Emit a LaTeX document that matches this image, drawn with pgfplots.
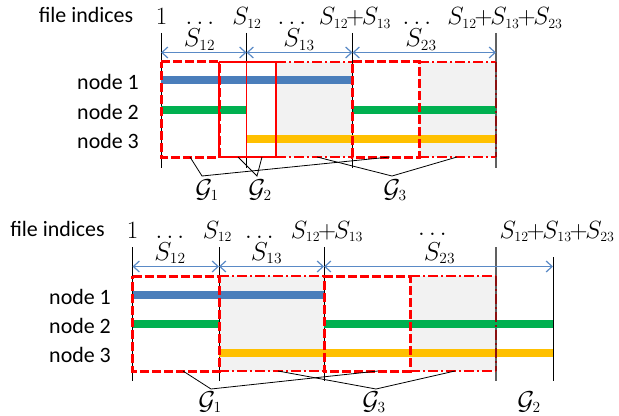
\RequirePackage{fix-cm}
\documentclass[border=0pt]{standalone}
\usepackage{fontspec}
\usepackage{pgfplots}
\pgfplotsset{compat=1.18}
\usetikzlibrary{arrows.meta}
\newfontfamily\carl{Carlito}
\DeclareMathSizes{25}{25}{14}{10}
\DeclareMathSizes{26}{26}{15.5}{11}
\definecolor{nblue}{HTML}{4A7EBB}
\definecolor{ngreen}{HTML}{00B050}
\definecolor{nyellow}{HTML}{FFC000}
\definecolor{arr}{HTML}{5A8AC6}
\definecolor{gfill}{HTML}{F2F2F2}
\definecolor{dgray}{HTML}{606060}
\definecolor{dred}{HTML}{8B1010}
\newcommand{\pl}{\mkern-1.5mu\mathord{+}\mkern-1.5mu}
\begin{document}
\begin{tikzpicture}
\begin{axis}[
  name=ax,
  width=619bp, height=416bp, scale only axis,
  xmin=0, xmax=619, ymin=0, ymax=416, y dir=reverse,
  hide axis, clip=false,
  every axis plot/.append style={forget plot},
  g1/.style={red, line width=3bp, dash pattern=on 9bp off 3bp, line join=miter},
  g2/.style={red, line width=1.6bp},
  g3/.style={red, line width=1.4bp, dash pattern=on 10bp off 3bp on 2bp off 3bp},
  vl/.style={black, line width=0.9bp},
  bar/.style={line width=8bp},
  con/.style={black, line width=0.8bp},
  ar/.style={arr, line width=1.2bp, {Straight Barb[length=6bp,width=11bp]}-{Straight Barb[length=6bp,width=11bp]}},
]
\addplot[draw=none] coordinates {(0,0) (619,416)};
% ================= TOP =================
\addplot[fill=gfill, draw=none] coordinates {(276,62) (352,62) (352,157) (276,157)};
\addplot[fill=gfill, draw=none] coordinates {(419,62) (496,62) (496,157) (419,157)};
\addplot[vl] coordinates {(161,33) (161,168)};
\addplot[vl] coordinates {(246.5,33) (246.5,168)};
\addplot[vl] coordinates {(352.5,33) (352.5,168)};
\addplot[dgray, line width=2bp] coordinates {(496,33) (496,168)};
\addplot[nblue, bar] coordinates {(161,80.5) (352,80.5)};
\addplot[ngreen, bar] coordinates {(161,110) (246.5,110)};
\addplot[ngreen, bar] coordinates {(352.5,110) (496,110)};
\addplot[nyellow, bar] coordinates {(246.5,139) (496,139)};
\addplot[g3] coordinates {(276,62) (352,62)};
\addplot[g3] coordinates {(276,157) (352,157)};
\addplot[g3] coordinates {(419,62) (496,62)};
\addplot[g3] coordinates {(419,157) (496,157)};
\addplot[dred, line width=1.4bp, dash pattern=on 10bp off 3bp on 2bp off 3bp] coordinates {(496,62) (496,157)};
\addplot[g2] coordinates {(219,62) (276,62) (276,157) (219,157) (219,62)};
\addplot[g2] coordinates {(246.5,62) (246.5,157)};
\addplot[g1] coordinates {(161,62) (219,62) (219,157) (161,157) (161,62)};
\addplot[g1] coordinates {(352.5,62) (419,62) (419,157) (352.5,157) (352.5,62)};
\addplot[ar] coordinates {(161,52.5) (246.5,52.5)};
\addplot[ar] coordinates {(246.5,52.5) (352.5,52.5)};
\addplot[ar] coordinates {(352.5,52.5) (496,52.5)};
\addplot[con] coordinates {(190,157) (202,176) (390,157)};
\addplot[con] coordinates {(238,157) (257,176) (262,157)};
\addplot[con] coordinates {(317,157) (392,176) (457,157)};
% ================= BOTTOM =================
\addplot[fill=gfill, draw=none] coordinates {(219,276) (324,276) (324,371) (219,371)};
\addplot[fill=gfill, draw=none] coordinates {(410,276) (496,276) (496,371) (410,371)};
\addplot[vl] coordinates {(132.5,247) (132.5,381)};
\addplot[vl] coordinates {(219,247) (219,381)};
\addplot[vl] coordinates {(324,247) (324,381)};
\addplot[dgray, line width=2bp] coordinates {(496,247) (496,381)};
\addplot[vl] coordinates {(553,257) (553,381)};
\addplot[nblue, bar] coordinates {(132.5,294.5) (324,294.5)};
\addplot[ngreen, bar] coordinates {(132.5,323.5) (219,323.5)};
\addplot[ngreen, bar] coordinates {(324,323.5) (553,323.5)};
\addplot[nyellow, bar] coordinates {(219,352.5) (553,352.5)};
\addplot[g3] coordinates {(219,276) (324,276)};
\addplot[g3] coordinates {(219,371) (324,371)};
\addplot[g3] coordinates {(410,276) (496,276)};
\addplot[g3] coordinates {(410,371) (496,371)};
\addplot[dred, line width=1.4bp, dash pattern=on 10bp off 3bp on 2bp off 3bp] coordinates {(496,276) (496,371)};
\addplot[g1] coordinates {(132.5,276) (219,276) (219,371) (132.5,371) (132.5,276)};
\addplot[g1] coordinates {(324,276) (410,276) (410,371) (324,371) (324,276)};
\addplot[ar] coordinates {(132.5,266.5) (219,266.5)};
\addplot[ar] coordinates {(219,266.5) (324,266.5)};
\addplot[ar] coordinates {(324,266.5) (553,266.5)};
\addplot[con] coordinates {(183,371) (211,389) (378,371)};
\addplot[con] coordinates {(278,371) (376,389) (455,371)};
% ================= TEXT =================
\begin{scope}[every node/.style={inner sep=0pt},
  tx/.style={font=\carl\fontsize{22}{26}\selectfont},
  mi/.style={anchor=base, font=\fontsize{25}{29}\selectfont},
  ma/.style={anchor=base, font=\fontsize{26}{30}\selectfont}]
\node[anchor=base, tx] at (axis cs:86,23) {file indices};
\node[mi] at (axis cs:161.5,25) {$1$};
\node[mi] at (axis cs:200,25) {$\ldots$};
\node[mi] at (axis cs:247,25) {$S_{12}$};
\node[mi] at (axis cs:292,25) {$\ldots$};
\node[mi] at (axis cs:355,25) {$S_{12}\pl S_{13}$};
\node[mi] at (axis cs:417,25) {$\ldots$};
\node[mi] at (axis cs:505,25) {$S_{12}\pl S_{13}\pl S_{23}$};
\node[ma] at (axis cs:199.5,47) {$S_{12}$};
\node[ma] at (axis cs:299,47) {$S_{13}$};
\node[ma] at (axis cs:421,47) {$S_{23}$};
\node[anchor=base east, tx] at (axis cs:139,90) {node 1};
\node[anchor=base east, tx] at (axis cs:139,119.5) {node 2};
\node[anchor=base east, tx] at (axis cs:139,148.5) {node 3};
\node[ma] at (axis cs:207,197) {$\mathcal{G}_1$};
\node[ma] at (axis cs:260,197) {$\mathcal{G}_2$};
\node[ma] at (axis cs:395,197) {$\mathcal{G}_3$};
% bottom
\node[anchor=base, tx] at (axis cs:57.5,236) {file indices};
\node[mi] at (axis cs:132.5,238) {$1$};
\node[mi] at (axis cs:170,238) {$\ldots$};
\node[mi] at (axis cs:217.5,238) {$S_{12}$};
\node[mi] at (axis cs:259.5,238) {$\ldots$};
\node[mi] at (axis cs:327,238) {$S_{12}\pl S_{13}$};
\node[mi] at (axis cs:432.5,235) {$\ldots$};
\node[mi] at (axis cs:557,238) {$S_{12}\pl S_{13}\pl S_{23}$};
\node[ma] at (axis cs:170,260) {$S_{12}$};
\node[ma] at (axis cs:266.5,260) {$S_{13}$};
\node[ma] at (axis cs:439.5,260) {$S_{23}$};
\node[anchor=base east, tx] at (axis cs:111,304.5) {node 1};
\node[anchor=base east, tx] at (axis cs:111,333.5) {node 2};
\node[anchor=base east, tx] at (axis cs:111,362.5) {node 3};
\node[ma] at (axis cs:210,409) {$\mathcal{G}_1$};
\node[ma] at (axis cs:374,409) {$\mathcal{G}_3$};
\node[ma] at (axis cs:529,409) {$\mathcal{G}_2$};
\end{scope}
\end{axis}
\pgfresetboundingbox
\path (ax.south west) rectangle (ax.north east);
\end{tikzpicture}
\end{document}
